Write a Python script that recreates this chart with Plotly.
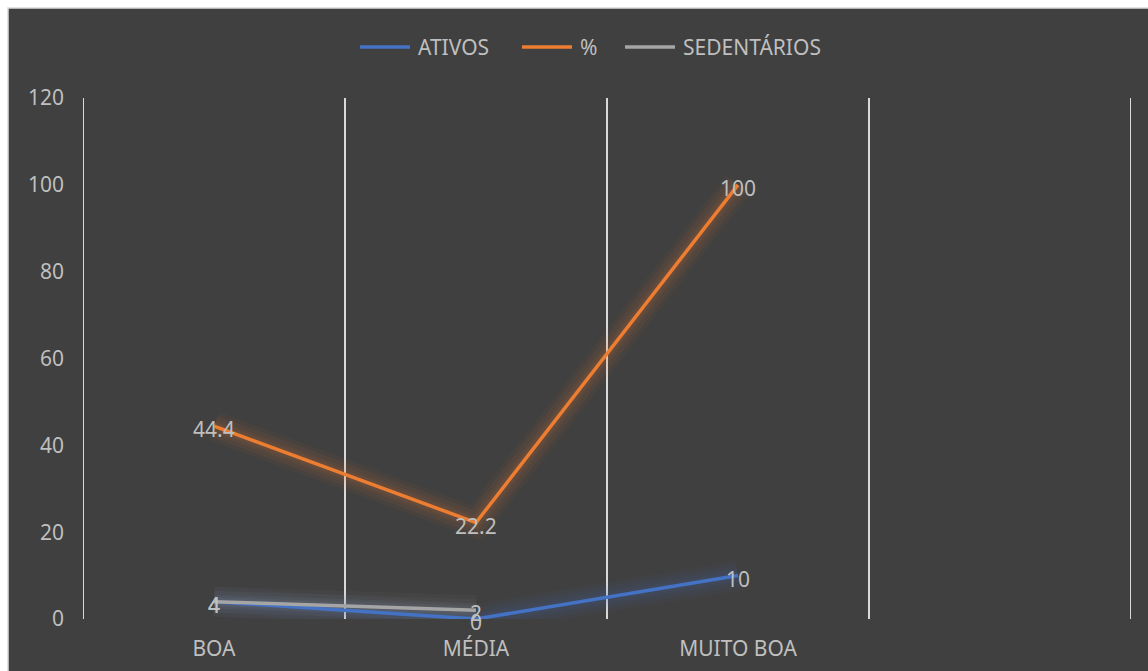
import plotly.graph_objects as go

# Categories on the horizontal axis (four slots, the last one left empty)
categories = ["BOA", "MÉDIA", "MUITO BOA"]
n_slots = 4

# Series values
ativos = [4, 0, 10]
percent = [44.4, 22.2, 100]
sedentarios = [4, 2, None]

y_ticks = [0, 20, 40, 60, 80, 100, 120]

series = [
    ("ATIVOS", ativos, "#4472C4"),
    ("%", percent, "#ED7D31"),
    ("SEDENTÁRIOS", sedentarios, "#A5A5A5"),
]

FONT = "Noto Sans"
TEXT_COLOR = "#BFBFBF"
BG = "#404040"
GRID = "#D9D9D9"

# Plot-area geometry in pixels
W, H = 1148, 671
L, R, T, B = 83, 17, 98, 52
PW, PH = W - L - R, H - T - B


def px(x):
    return (x - L) / PW


def py(y):
    return (H - B - y) / PH


def fmt(v):
    return str(int(v)) if float(v).is_integer() else f"{v}"


x_pos = list(range(len(categories)))

fig = go.Figure()

# Soft glow under each line: stacked wide translucent strokes
for name, vals, color in series:
    for w, op in [(30, 0.045), (22, 0.05), (14, 0.06), (9, 0.07)]:
        fig.add_trace(go.Scatter(
            x=x_pos, y=vals, mode="lines",
            line=dict(color=color, width=w),
            opacity=op, showlegend=False, hoverinfo="skip",
        ))

# Main lines
for name, vals, color in series:
    fig.add_trace(go.Scatter(
        x=x_pos, y=vals, name=name, mode="lines",
        line=dict(color=color, width=3.5),
        showlegend=False,
    ))

annotations = []

# Value labels centred on each point
for name, vals, color in series:
    for x, v in zip(x_pos, vals):
        if v is None:
            continue
        annotations.append(dict(
            x=x, y=v, xref="x", yref="y", text=fmt(v),
            showarrow=False, xanchor="center", yanchor="middle", yshift=-3,
            font=dict(family=FONT, size=21, color=TEXT_COLOR),
        ))

# Chart-area background with thin light border
shapes = [dict(
    type="rect", xref="paper", yref="paper",
    x0=px(8), x1=px(W + 2), y0=py(H + 2), y1=py(8),
    fillcolor=BG, line=dict(color=GRID, width=1.5), layer="below",
)]
# Vertical separators at slot boundaries
for k in range(n_slots + 1):
    shapes.append(dict(
        type="line", xref="x", yref="paper",
        x0=k - 0.5, x1=k - 0.5, y0=0, y1=1,
        line=dict(color=GRID, width=2), layer="below",
    ))

# Legend row across the top
legend_items = [(360, 416), (522, 578), (625, 681)]
legend_y = 47
for (name, _, color), (lx, tx) in zip(series, legend_items):
    shapes.append(dict(
        type="line", xref="paper", yref="paper",
        x0=px(lx), x1=px(lx + 50), y0=py(legend_y), y1=py(legend_y),
        line=dict(color=color, width=3.5),
    ))
    annotations.append(dict(
        text=name, xref="paper", yref="paper",
        x=px(tx), y=py(legend_y), xanchor="left", yanchor="middle",
        showarrow=False,
        font=dict(family=FONT, size=21, color=TEXT_COLOR),
    ))

fig.update_layout(
    width=W, height=H,
    margin=dict(l=L, r=R, t=T, b=B),
    paper_bgcolor="white",
    plot_bgcolor="rgba(0,0,0,0)",
    shapes=shapes,
    annotations=annotations,
    showlegend=False,
    xaxis=dict(
        range=[-0.5, n_slots - 0.5],
        tickvals=x_pos, ticktext=categories,
        showgrid=False, zeroline=False, showline=False, ticks="",
        tickfont=dict(family=FONT, size=21, color=TEXT_COLOR),
        ticklabelstandoff=15, automargin=False,
    ),
    yaxis=dict(
        range=[0, 120], tickvals=y_ticks,
        showgrid=False, zeroline=False, showline=False, ticks="",
        tickfont=dict(family=FONT, size=21, color=TEXT_COLOR),
        ticklabelstandoff=18, automargin=False,
    ),
)

fig.write_html("out.html")
